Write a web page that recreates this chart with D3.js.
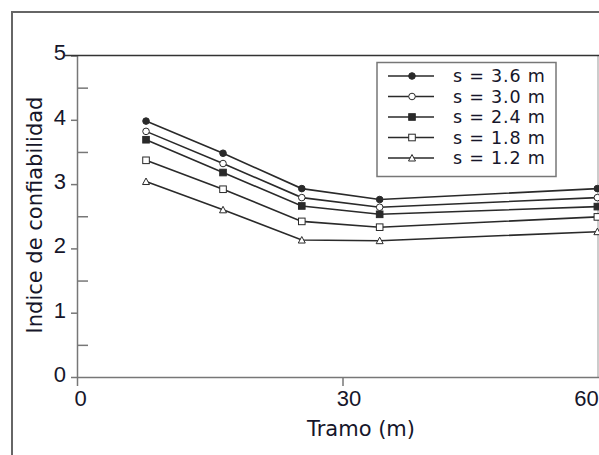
<!DOCTYPE html>
<html>
<head>
<meta charset="utf-8">
<script src="https://cdn.jsdelivr.net/npm/d3@7"></script>
<style>
  body { margin: 0; background: #fff; }
  svg { display: block; font-family: "DejaVu Sans", Verdana, sans-serif; }
</style>
</head>
<body>
<svg id="chart" width="599" height="455"></svg>
<script>
// Tramo (m) positions
const TRAMO = [7.8, 16.5, 25.4, 34.2, 58.8]
const SERIES_NAMES = ["s = 3.6 m", "s = 3.0 m", "s = 2.4 m", "s = 1.8 m", "s = 1.2 m"]
const S36 = [3.98, 3.48, 2.93, 2.76, 2.93]
const S30 = [3.82, 3.32, 2.79, 2.64, 2.79]
const S24 = [3.69, 3.18, 2.66, 2.53, 2.65]
const S18 = [3.37, 2.92, 2.42, 2.33, 2.49]
const S12 = [3.04, 2.60, 2.13, 2.12, 2.26]
const MARKERS = ["circleFilled", "circleOpen", "squareFilled", "squareOpen", "triangleOpen"]
const X_TICKS = [0, 30, 60]
const Y_TICKS = [0, 1, 2, 3, 4, 5]
const Y_MINOR = [0.5, 1.5, 2.5, 3.5, 4.5]

const TEXT_COLOR = "#16162a"
const LINE_COLOR = "#2a2a2a"

const svg = d3.select("#chart")
const PLOT_LEFT = 77, PLOT_RIGHT = 598, PLOT_TOP = 55.5, PLOT_BOTTOM = 377

const X_SCALE = d3.scaleLinear().domain([0, 60]).range([PLOT_LEFT, 608])
const Y_SCALE = d3.scaleLinear().domain([0, 5]).range([PLOT_BOTTOM, PLOT_TOP])

// outer frame (left + top)
svg.append("path")
    .attr("d", `M12,455 L12,12 L599,12`)
    .attr("fill", "none")
    .attr("stroke", "#666")
    .attr("stroke-width", 2)

// plot area
svg.append("rect")
    .attr("x", PLOT_LEFT).attr("y", PLOT_TOP)
    .attr("width", PLOT_RIGHT - PLOT_LEFT).attr("height", PLOT_BOTTOM - PLOT_TOP)
    .attr("fill", "#fff")
svg.append("line")
    .attr("x1", PLOT_RIGHT).attr("x2", PLOT_RIGHT)
    .attr("y1", PLOT_TOP).attr("y2", PLOT_BOTTOM)
    .attr("stroke", "#999").attr("stroke-width", 1)

// Y axis
const yAxis = svg.append("g")
    .attr("transform", `translate(${PLOT_LEFT},0)`)
    .call(d3.axisLeft(Y_SCALE).tickValues(Y_TICKS).tickFormat(d3.format("d")).tickSize(6).tickSizeOuter(0))
yAxis.select(".domain").attr("stroke", "#777").attr("stroke-width", 1.5)
yAxis.selectAll(".tick line").attr("stroke", "#777").attr("stroke-width", 1.5)
yAxis.selectAll(".tick text")
    .attr("x", -11).attr("dy", "0.2em")
    .attr("font-size", 22).attr("fill", TEXT_COLOR)

const yMinor = svg.append("g")
    .attr("transform", `translate(${PLOT_LEFT},0)`)
    .call(d3.axisRight(Y_SCALE).tickValues(Y_MINOR).tickFormat("").tickSize(11).tickSizeOuter(0))
yMinor.select(".domain").remove()
yMinor.selectAll(".tick line").attr("stroke", "#777").attr("stroke-width", 1.5)

// X axis
const xAxis = svg.append("g")
    .attr("transform", `translate(0,${PLOT_BOTTOM})`)
    .call(d3.axisBottom(X_SCALE).tickValues(X_TICKS).tickFormat(d3.format("d")).tickSize(9).tickSizeOuter(0))
xAxis.select(".domain").attr("stroke", "#777").attr("stroke-width", 1.5)
xAxis.selectAll(".tick text")
    .attr("y", 13)
    .attr("font-size", 22).attr("fill", TEXT_COLOR)
    .attr("dx", d => d === 0 ? 3 : d === 30 ? 6 : -22)
xAxis.selectAll(".tick line").attr("stroke", "#777").attr("stroke-width", 1.5)

// top border of plot
svg.append("line")
    .attr("x1", 65).attr("x2", 599)
    .attr("y1", PLOT_TOP).attr("y2", PLOT_TOP)
    .attr("stroke", "#333").attr("stroke-width", 1.5)

// axis titles
svg.append("text")
    .attr("x", 361).attr("y", 436)
    .attr("text-anchor", "middle")
    .attr("font-size", 21).attr("fill", TEXT_COLOR)
    .text("Tramo (m)")
svg.append("text")
    .attr("transform", "translate(42,215) rotate(-90)")
    .attr("text-anchor", "middle")
    .attr("font-size", 21).attr("fill", TEXT_COLOR)
    .text("Indice de confiabilidad")

// markers
function drawMarker(g, type, x, y) {
    if (type === "circleFilled" || type === "circleOpen") {
        g.append("circle").attr("cx", x).attr("cy", y).attr("r", 3.3)
            .attr("fill", type === "circleFilled" ? LINE_COLOR : "#fff")
            .attr("stroke", LINE_COLOR).attr("stroke-width", 1)
    } else if (type === "squareFilled" || type === "squareOpen") {
        g.append("rect").attr("x", x - 3.3).attr("y", y - 3.3).attr("width", 6.6).attr("height", 6.6)
            .attr("fill", type === "squareFilled" ? LINE_COLOR : "#fff")
            .attr("stroke", LINE_COLOR).attr("stroke-width", 1)
    } else {
        g.append("path").attr("d", `M${x},${y - 3.5} L${x + 3.5},${y + 3} L${x - 3.5},${y + 3} Z`)
            .attr("fill", "#fff").attr("stroke", LINE_COLOR).attr("stroke-width", 1)
    }
}

const ALL_SERIES = [S36, S30, S24, S18, S12]
const line = d3.line()
    .x((d, i) => X_SCALE(TRAMO[i]))
    .y(d => Y_SCALE(d))

const dataG = svg.append("g")
ALL_SERIES.forEach((values, k) => {
    dataG.append("path")
        .datum(values)
        .attr("d", line)
        .attr("fill", "none")
        .attr("stroke", LINE_COLOR)
        .attr("stroke-width", 1.6)
    values.forEach((v, i) => drawMarker(dataG, MARKERS[k], X_SCALE(TRAMO[i]), Y_SCALE(v)))
})

// legend
const legend = svg.append("g")
legend.append("rect")
    .attr("x", 377).attr("y", 62.5).attr("width", 179).attr("height", 114)
    .attr("fill", "#fff").attr("stroke", "#777").attr("stroke-width", 1.5)
SERIES_NAMES.forEach((name, k) => {
    const y = 76 + k * 20.5
    legend.append("line")
        .attr("x1", 388).attr("x2", 434).attr("y1", y).attr("y2", y)
        .attr("stroke", LINE_COLOR).attr("stroke-width", 1.6)
    drawMarker(legend, MARKERS[k], 412, y)
    legend.append("text")
        .attr("x", 453).attr("y", y).attr("dy", "0.36em")
        .attr("font-size", 17.5).attr("letter-spacing", 0.8).attr("fill", TEXT_COLOR)
        .text(name)
})
</script>
</body>
</html>
